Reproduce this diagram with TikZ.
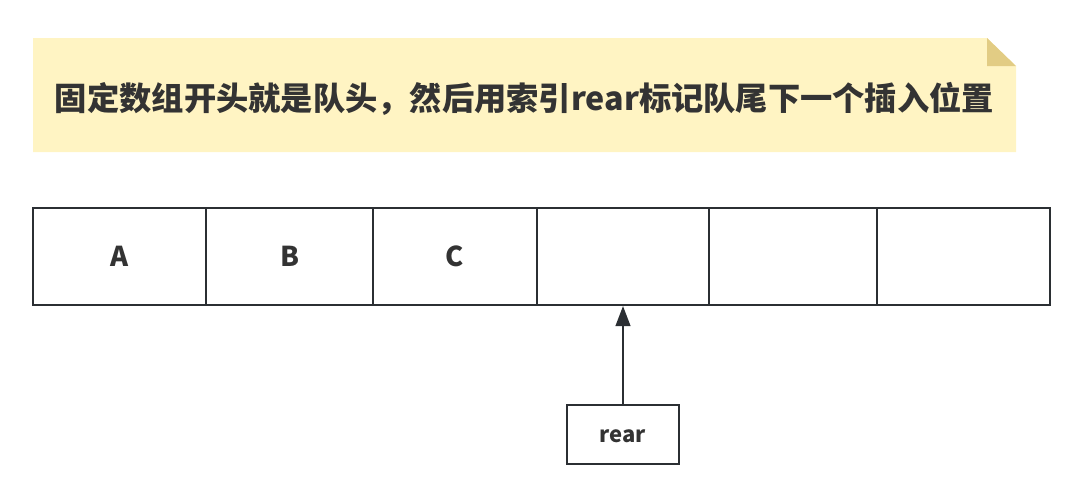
\documentclass[tikz,border=0pt]{standalone}
\usepackage{fontspec}
\setmainfont{Noto Sans CJK SC}
\usetikzlibrary{arrows.meta}
\definecolor{notefill}{HTML}{FFF4C3}
\definecolor{notefold}{HTML}{E2CC84}
\definecolor{ink}{HTML}{2B2F33}
\definecolor{txt}{HTML}{333333}
\tikzset{
  cellbox/.style={draw=ink, line width=1.5pt, minimum height=72.75pt, inner sep=0pt, font=\bfseries\fontsize{20.5}{22}\selectfont, text=txt},
  rearbox/.style={draw=ink, line width=1.5pt, minimum width=84pt, minimum height=44.25pt, inner sep=0pt, font=\bfseries\fontsize{16.5}{18}\selectfont, text=txt, text height=1.2em, text depth=0pt},
  link/.style={draw=ink, line width=1.5pt, -{Triangle[length=15pt,width=11pt]}}
}
\begin{document}
\begin{tikzpicture}[x=0.75pt,y=-0.75pt]
\useasboundingbox (0,0) rectangle (1074,487);
% note banner
\fill[notefill] (33,38) -- (987,38) -- (1016,66) -- (1016,152) -- (33,152) -- cycle;
\fill[notefold] (987,38) -- (1016,66) -- (987,66) -- cycle;
\node[font=\bfseries\fontsize{24.2}{27}\selectfont, text=txt] (title) at (524.5,99) {固定数组开头就是队头，然后用索引rear标记队尾下一个插入位置};
% array cells
\node[cellbox, minimum width=129.75pt] (c1) at (119.5,256.5) {A};
\node[cellbox, minimum width=125.25pt] (c2) at (289.5,256.5) {B};
\node[cellbox, minimum width=123pt] (c3) at (455,256.5) {C};
\node[cellbox, minimum width=129pt] (c4) at (623,256.5) {};
\node[cellbox, minimum width=126pt] (c5) at (793,256.5) {};
\node[cellbox, minimum width=129.75pt] (c6) at (963.5,256.5) {};
% rear pointer
\node[rearbox] (rear) at (623,434.5) {rear};
\draw[link] (rear.north) -- (c4.south);
\end{tikzpicture}
\end{document}
